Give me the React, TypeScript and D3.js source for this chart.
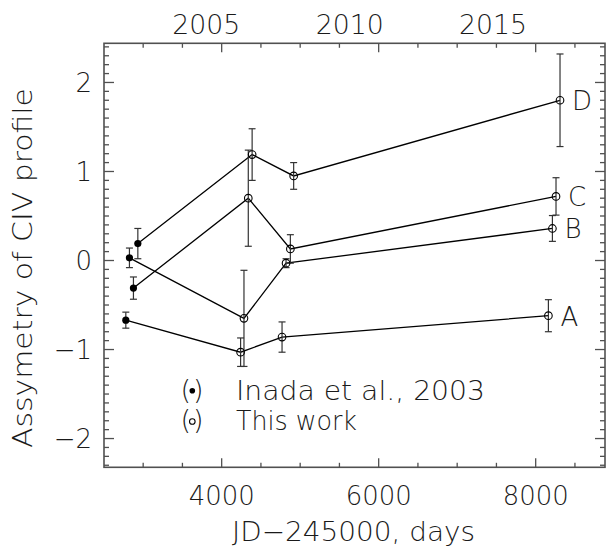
import React from "react";
import * as d3 from "d3";

// ---- data ----
const seriesNames = ["A", "B", "C", "D"];
// Inada et al. 2003 (filled)
const inadaDays = [2779, 2825, 2876, 2932];
const inadaVals = [-0.67, 0.03, -0.31, 0.19];
const inadaErr = [0.09, 0.11, 0.125, 0.17];
// This work (open), per series
const workDaysA = [4241, 4769, 8162];
const workValsA = [-1.03, -0.86, -0.62];
const workErrA = [0.16, 0.17, 0.18];
const workDaysB = [4284, 4820, 8213];
const workValsB = [-0.65, -0.03, 0.36];
const workErrB = [0.54, 0.05, 0.145];
const workDaysC = [4339, 4875, 8259];
const workValsC = [0.7, 0.13, 0.72];
const workErrC = [0.54, 0.16, 0.21];
const workDaysD = [4388, 4917, 8310];
const workValsD = [1.19, 0.95, 1.8];
const workErrD = [0.29, 0.15, 0.52];

const xMajorTicks = [4000, 6000, 8000];
const yMajorTicks = [-2, -1, 0, 1, 2];
const yearLabels = [2005, 2010, 2015];

const workDays = [workDaysA, workDaysB, workDaysC, workDaysD];
const workVals = [workValsA, workValsB, workValsC, workValsD];
const workErr = [workErrA, workErrB, workErrC, workErrD];

const W = 608;
const H = 546;
const L = 104, R = 605, T = 43.3, B = 467.3;
const FONT = "'DejaVu Sans', sans-serif";
const TXT = "#1a1a1a";
const AX = "#505050";

export default function App() {
  const x = d3.scaleLinear().domain([2501, 8883]).range([L, R]);
  const y = d3.scaleLinear().domain([-2.323, 2.44]).range([B, T]);

  const xMinor = d3.range(3000, 8881, 500);
  const yMinor = d3.range(-23, 25, 1).map((v) => v / 10);

  const jd = (yr: number) => Date.UTC(yr, 0, 1) / 86400000 + 2440587.5 - 2450000;

  const line = d3
    .line<[number, number]>()
    .x((d) => x(d[0]))
    .y((d) => y(d[1]));

  const errBar = (d: number, v: number, e: number, key: string) => {
    const cx = x(d);
    return (
      <g key={key} stroke="#333" strokeWidth={1.2}>
        <line x1={cx} x2={cx} y1={y(v - e)} y2={y(v + e)} />
        <line x1={cx - 3.5} x2={cx + 3.5} y1={y(v - e)} y2={y(v - e)} />
        <line x1={cx - 3.5} x2={cx + 3.5} y1={y(v + e)} y2={y(v + e)} />
      </g>
    );
  };

  return (
    <svg
      width={W}
      height={H}
      style={{ position: "absolute", left: 0, top: 0, background: "#fff" }}
    >
      <rect x={0} y={0} width={W} height={H} fill="#fff" />
      {/* series lines */}
      {seriesNames.map((s, i) => {
        const pts: [number, number][] = [[inadaDays[i], inadaVals[i]]].concat(
          workDays[i].map((d, j) => [d, workVals[i][j]] as [number, number])
        ) as [number, number][];
        return (
          <path key={"l" + s} d={line(pts) || ""} fill="none" stroke="#000" strokeWidth={1.3} />
        );
      })}
      {/* error bars */}
      {seriesNames.map((s, i) => (
        <g key={"e" + s}>
          {errBar(inadaDays[i], inadaVals[i], inadaErr[i], "ie" + s)}
          {workDays[i].map((d, j) => errBar(d, workVals[i][j], workErr[i][j], "we" + s + j))}
        </g>
      ))}
      {/* markers */}
      {seriesNames.map((s, i) => (
        <g key={"m" + s}>
          <circle cx={x(inadaDays[i])} cy={y(inadaVals[i])} r={3.6} fill="#000" />
          {workDays[i].map((d, j) => (
            <circle
              key={j}
              cx={x(d)}
              cy={y(workVals[i][j])}
              r={3.8}
              fill="none"
              stroke="#000"
              strokeWidth={1.1}
            />
          ))}
        </g>
      ))}
      {/* series labels */}
      {seriesNames.map((s, i) => {
        const n = workDays[i].length - 1;
        return (
          <text
            key={"t" + s}
            x={x(workDays[i][n]) + 12}
            y={y(workVals[i][n]) + 10}
            fontFamily={FONT}
            fontWeight={200}
            fontSize={26}
            fill={TXT}
          >
            {s}
          </text>
        );
      })}
      {/* frame */}
      <rect x={L} y={T} width={R - L} height={B - T} fill="none" stroke={AX} strokeWidth={1.6} />
      {/* x ticks bottom & top */}
      {xMinor.map((d) => {
        const major = xMajorTicks.includes(d);
        const len = major ? 9 : 4.5;
        return (
          <g key={"xt" + d} stroke={AX} strokeWidth={1.3}>
            <line x1={x(d)} x2={x(d)} y1={B} y2={B - len} />
            <line x1={x(d)} x2={x(d)} y1={T} y2={T + len} />
          </g>
        );
      })}
      {/* y ticks left & right */}
      {yMinor.map((v) => {
        const major = yMajorTicks.includes(v);
        const len = major ? 10 : 5;
        return (
          <g key={"yt" + v} stroke={AX} strokeWidth={1.3}>
            <line x1={L} x2={L + len} y1={y(v)} y2={y(v)} />
            <line x1={R} x2={R - len} y1={y(v)} y2={y(v)} />
          </g>
        );
      })}
      {/* x tick labels */}
      {xMajorTicks.map((d) => (
        <text
          key={"xl" + d}
          x={x(d)}
          y={505}
          textAnchor="middle"
          fontFamily={FONT}
          fontWeight={200}
          fontSize={26}
          fill={TXT}
          textLength={66}
          lengthAdjust="spacingAndGlyphs"
        >
          {d}
        </text>
      ))}
      {/* year labels on top */}
      {yearLabels.map((yr) => (
        <text
          key={"yr" + yr}
          x={x(jd(yr))}
          y={34}
          textAnchor="start"
          fontFamily={FONT}
          fontWeight={200}
          fontSize={26}
          fill={TXT}
          textLength={68}
          lengthAdjust="spacingAndGlyphs"
        >
          {yr}
        </text>
      ))}
      {/* y tick labels */}
      {yMajorTicks.map((v) => (
        <text
          key={"yl" + v}
          x={92}
          y={y(v) + 9.5}
          textAnchor="end"
          fontFamily={FONT}
          fontWeight={200}
          fontSize={26}
          fill={TXT}
        >
          {v < 0 ? "\u2212" + Math.abs(v) : String(v)}
        </text>
      ))}
      {/* axis titles */}
      <text
        x={(L + R) / 2 - 1}
        y={541}
        textAnchor="middle"
        fontFamily={FONT}
        fontWeight={200}
        fontSize={26}
        fill={TXT}
        textLength={243}
        lengthAdjust="spacingAndGlyphs"
      >
        JD−245000, days
      </text>
      <text
        transform={`translate(32, ${268}) rotate(-90)`}
        textAnchor="middle"
        fontFamily={FONT}
        fontWeight={200}
        fontSize={26}
        fill={TXT}
        textLength={360}
        lengthAdjust="spacingAndGlyphs"
      >
        Assymetry of CIV profile
      </text>
      {/* legend */}
      <g fontFamily={FONT} fontWeight={200} fontSize={27} fill={TXT}>
        <text x={180.5} y={399}>(</text>
        <circle cx={192.3} cy={390.7} r={2.8} fill="#000" />
        <text x={193} y={399}>)</text>
        <text x={236} y={400} fontSize={26} textLength={249} lengthAdjust="spacingAndGlyphs">
          Inada et al., 2003
        </text>
        <text x={180.5} y={429}>(</text>
        <circle cx={192.3} cy={421.5} r={2.8} fill="none" stroke="#000" strokeWidth={1.1} />
        <text x={193} y={429}>)</text>
        <text x={236} y={430} fontSize={26} textLength={121} lengthAdjust="spacingAndGlyphs">
          This work
        </text>
      </g>
    </svg>
  );
}
